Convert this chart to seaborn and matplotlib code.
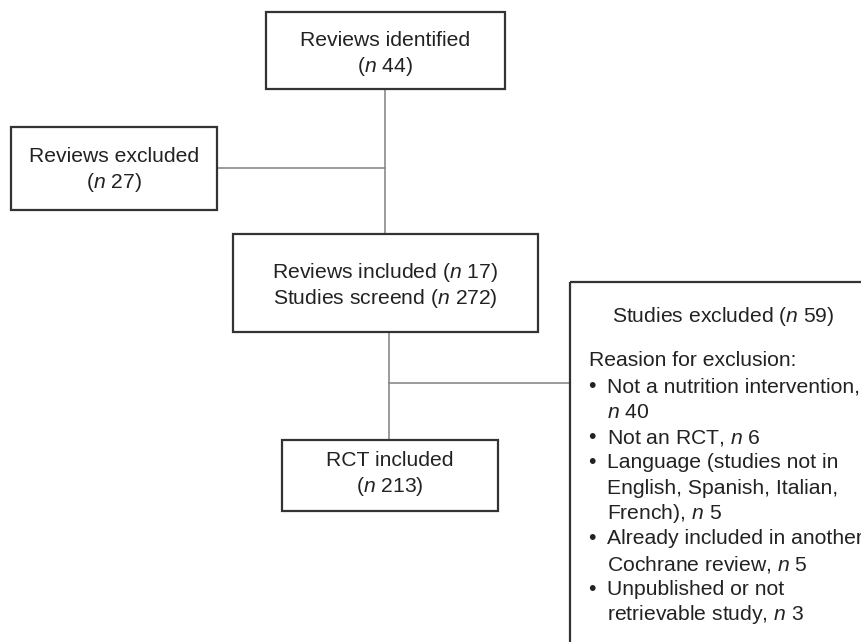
import matplotlib
matplotlib.use("Agg")
import matplotlib.pyplot as plt
from matplotlib.patches import Rectangle
import pandas as pd
import seaborn as sns

# counts shown in the flow diagram
review_steps = ['Reviews identified', 'Reviews excluded', 'Reviews included']
review_n = [44, 27, 17]
study_steps = ['Studies screend', 'Studies excluded', 'RCT included']
study_n = [272, 59, 213]
reason_lines = [['Not a nutrition intervention,', '$n$ {}'],
                ['Not an RCT, $n$ {}'],
                ['Language (studies not in', 'English, Spanish, Italian,', 'French), $n$ {}'],
                ['Already included in another', 'Cochrane review, $n$ {}'],
                ['Unpublished or not', 'retrievable study, $n$ {}']]
reason_n = [40, 6, 5, 5, 3]

sns.set_theme(style='white')
plt.rcParams['font.family'] = ['Liberation Sans', 'DejaVu Sans']
plt.rcParams['mathtext.fontset'] = 'custom'
plt.rcParams['mathtext.rm'] = 'Liberation Sans'
plt.rcParams['mathtext.it'] = 'Liberation Sans:italic'

fig = plt.figure(figsize=(8.61, 6.42), dpi=100)
ax = fig.add_axes([0, 0, 1, 1])

txt = dict(fontsize=15.2, color='#222222', va='center')
box = dict(fill=False, edgecolor='#333333', linewidth=1.6, zorder=3)

# connectors
conn = pd.DataFrame({
    'x': [385, 385, 217, 385, 389, 389, 389, 570],
    'y': [89, 234, 168, 168, 332, 440, 383, 383],
    'seg': [0, 0, 1, 1, 2, 2, 3, 3],
})
sns.lineplot(data=conn, x='x', y='y', units='seg', estimator=None, sort=False,
             color='#808080', linewidth=1.1, ax=ax, legend=False)
ax.set_xlim(0, 861)
ax.set_ylim(642, 0)
ax.axis('off')

# boxes
ax.add_patch(Rectangle((266, 12), 239, 77, **box))
ax.add_patch(Rectangle((11, 127), 206, 83, **box))
ax.add_patch(Rectangle((233, 234), 305, 98, **box))
ax.add_patch(Rectangle((282, 440), 216, 71, **box))
ax.add_patch(Rectangle((570, 282), 330, 400, **box))

ax.text(385, 40, review_steps[0], ha='center', **txt)
ax.text(385, 67, '($n$ {})'.format(review_n[0]), ha='center', **txt)
ax.text(114, 157, review_steps[1], ha='center', **txt)
ax.text(114, 183, '($n$ {})'.format(review_n[1]), ha='center', **txt)
ax.text(385, 273, '{} ($n$ {})'.format(review_steps[2], review_n[2]), ha='center', **txt)
ax.text(385, 298, '{} ($n$ {})'.format(study_steps[0], study_n[0]), ha='center', **txt)
ax.text(390, 460, study_steps[2], ha='center', **txt)
ax.text(390, 487, '($n$ {})'.format(study_n[2]), ha='center', **txt)

ax.text(723, 317, '{} ($n$ {})'.format(study_steps[1], study_n[1]), ha='center', **txt)
ax.text(589, 360, 'Reasion for exclusion:', ha='left', **txt)

y = 387
for lines, n in zip(reason_lines, reason_n):
    ax.text(592, y, '\u2022', ha='center', **txt)
    for ln in lines:
        ax.text(607, y, ln.format(n) if '{}' in ln else ln, ha='left', **txt)
        y += 25.3

fig.savefig('out.png', dpi=100)
